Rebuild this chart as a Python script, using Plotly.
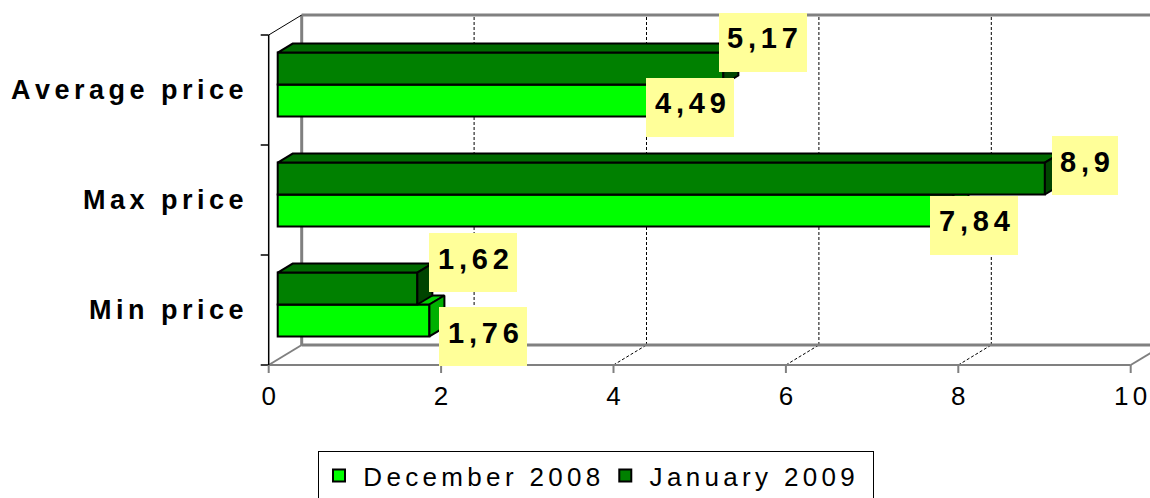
import plotly.graph_objects as go

# ---------------- data ----------------
categories = ["Min price", "Max price", "Average price"]
series_names = ["December 2008", "January 2009"]
dec_2008 = [1.76, 7.84, 4.49]
jan_2009 = [1.62, 8.90, 5.17]
x_ticks = [0, 2, 4, 6, 8, 10]

# ---------------- layout / style constants ----------------
W, H = 1150, 498
L, T, B, R = 256, 10, 120, 0
X0_PX, SX = 268.7, 86.2      # pixel of value 0, pixels per unit
Y0_PX, SY = 365.0, 110.0     # pixel of category floor, pixels per band
xr = [(L - X0_PX) / SX, (W - R - X0_PX) / SX]
yr = [(Y0_PX - (H - B)) / SY, (Y0_PX - T) / SY]

DX, DY = 33 / SX, 20 / SY        # depth of the chart box
BX = 9 / SX                      # bar front offset inside the box
BDX, BDY = 15 / SX, 9 / SY       # bar depth
Y_LO, Y_MID, Y_HI = 0.26, 0.55, 0.84

FONT = "Liberation Sans, Arial, sans-serif"
SP = "\u2006"
GREY = "#808080"

styles = [
    dict(front="#00FF00", top="#00D000", side="#00B000"),
    dict(front="#008000", top="#006A00", side="#004400"),
]
# label box offsets (pixels) relative to bar end / bar centre
label_shift = [
    [(54, -16.5), (20.5, -15), (25.5, -7)],
    [(56, 26), (40.5, 13), (39.5, 26.5)],
]
TEXT_RAISE = 4  # text sits a little above the centre of its yellow box


def spaced(s):
    return SP.join(list(s))


fig = go.Figure()

series_vals = [dec_2008, jan_2009]
bands = [(Y_LO, Y_MID), (Y_MID, Y_HI)]
axes = [("x", "y"), ("x2", "y2")]
legend_names = [SP + spaced(series_names[0]),
                SP + spaced(series_names[1]) + SP * 3]

for si, vals in enumerate(series_vals):
    y0r, y1r = bands[si]
    xa, ya = axes[si]
    st = styles[si]
    ys_center = [ci + (y0r + y1r) / 2 for ci in range(len(categories))]
    tx, ty, sx, sy = [], [], [], []
    for ci, v in enumerate(vals):
        yt = ci + y1r
        yb = ci + y0r
        tx += [BX, BX + v, BX + v + BDX, BX + BDX, BX, None]
        ty += [yt, yt, yt + BDY, yt + BDY, yt, None]
        sx += [BX + v, BX + v + BDX, BX + v + BDX, BX + v, BX + v, None]
        sy += [yb, yb + BDY, yt + BDY, yt, yb, None]
    fig.add_trace(go.Bar(
        orientation="h", y=ys_center, x=vals, base=BX, width=y1r - y0r,
        name=legend_names[si], xaxis=xa, yaxis=ya,
        marker=dict(color=st["front"], line=dict(color="black", width=2)),
        hoverinfo="skip"))
    fig.add_trace(go.Scatter(
        x=tx, y=ty, mode="lines", fill="toself", fillcolor=st["top"],
        line=dict(color="black", width=2), showlegend=False,
        xaxis=xa, yaxis=ya, hoverinfo="skip"))
    fig.add_trace(go.Scatter(
        x=sx, y=sy, mode="lines", fill="toself", fillcolor=st["side"],
        line=dict(color="black", width=2), showlegend=False,
        xaxis=xa, yaxis=ya, hoverinfo="skip"))

# ---------------- chart box (walls, floor, gridlines) ----------------
shapes = []
n = len(categories)
xmax = x_ticks[-1]


def line(x0, y0, x1, y1, color, width, dash="solid"):
    shapes.append(dict(type="line", xref="x", yref="y", x0=x0, y0=y0,
                       x1=x1, y1=y1, layer="below",
                       line=dict(color=color, width=width, dash=dash)))


for v in x_ticks[1:-1]:
    line(v + DX, DY, v + DX, n + DY, "black", 1, "3px,2px")
    line(v, 0, v + DX, DY, "black", 1, "3px,2px")
line(DX, n + DY, xmax + DX, n + DY, GREY, 3)
line(DX, DY, DX, n + DY, GREY, 3)
line(DX, DY, xmax + DX, DY, GREY, 3)
line(0, 0, xmax, 0, GREY, 2)
line(0, 0, DX, DY, GREY, 2)
line(xmax, 0, xmax + DX, DY, GREY, 2)
line(0, n, DX, n + DY, "black", 1)
line(0, 0, 0, n, "black", 1.5)
for c in range(n + 1):
    line(-8 / SX, c, 0, c, "black", 1.5)
for v in x_ticks:
    line(v, 0, v, -8 / SY, GREY, 2)

# ---------------- annotations ----------------
annotations = []
for ci, cat in enumerate(categories):
    annotations.append(dict(
        x=0, y=ci + 0.5, xref="x", yref="y", xanchor="right", yanchor="middle",
        xshift=-23, showarrow=False,
        text="<b>" + spaced(cat) + "</b>",
        font=dict(family=FONT, size=27, color="black")))

for si, vals in enumerate(series_vals):
    y0r, y1r = bands[si]
    for ci, v in enumerate(vals):
        txt = ("%g" % v).replace(".", ",")
        dxs, dys = label_shift[si][ci]
        base = dict(x=BX + v, y=ci + (y0r + y1r) / 2, xref="x", yref="y",
                    xanchor="center", yanchor="middle", showarrow=False)
        # yellow label box
        annotations.append(dict(
            base, xshift=dxs, yshift=dys, text=" ",
            bgcolor="#FFFF99", borderpad=0, borderwidth=0,
            width=22 * len(txt), height=59,
            font=dict(family=FONT, size=29, color="black")))
        # label text
        annotations.append(dict(
            base, xshift=dxs, yshift=dys + TEXT_RAISE,
            text="<b>" + spaced(txt) + "</b>",
            borderpad=0, borderwidth=0,
            font=dict(family=FONT, size=29, color="black")))

plot_w = W - L - R
plot_h = H - T - B
leg_x = (318 - L) / plot_w
leg_y = ((H - B) - 451) / plot_h

axis_common = dict(showgrid=False, zeroline=False, showline=False, fixedrange=True)
fig.update_layout(
    width=W, height=H,
    margin=dict(l=L, r=R, t=T, b=B, pad=0, autoexpand=False),
    paper_bgcolor="white", plot_bgcolor="white",
    barmode="overlay",
    font=dict(family=FONT, color="black"),
    xaxis=dict(range=xr, tickmode="array", tickvals=x_ticks,
               ticktext=[spaced(str(t)) for t in x_ticks], ticks="",
               ticklabelstandoff=0, automargin=False,
               tickfont=dict(family=FONT, size=26, color="black"), **axis_common),
    yaxis=dict(range=yr, showticklabels=False, ticks="", automargin=False,
               **axis_common),
    xaxis2=dict(range=xr, overlaying="x", visible=False, **axis_common),
    yaxis2=dict(range=yr, overlaying="y", visible=False, **axis_common),
    shapes=shapes,
    annotations=annotations,
    showlegend=True,
    legend=dict(orientation="h", x=leg_x, y=leg_y, xanchor="left", yanchor="top",
                bordercolor="black", borderwidth=1, bgcolor="white",
                font=dict(family=FONT, size=26, color="black"),
                traceorder="normal"),
)

fig.write_html(
    "out.html",
    config={"displayModeBar": False},
    post_script="document.body.style.margin='0';document.body.style.overflow='hidden';",
)
